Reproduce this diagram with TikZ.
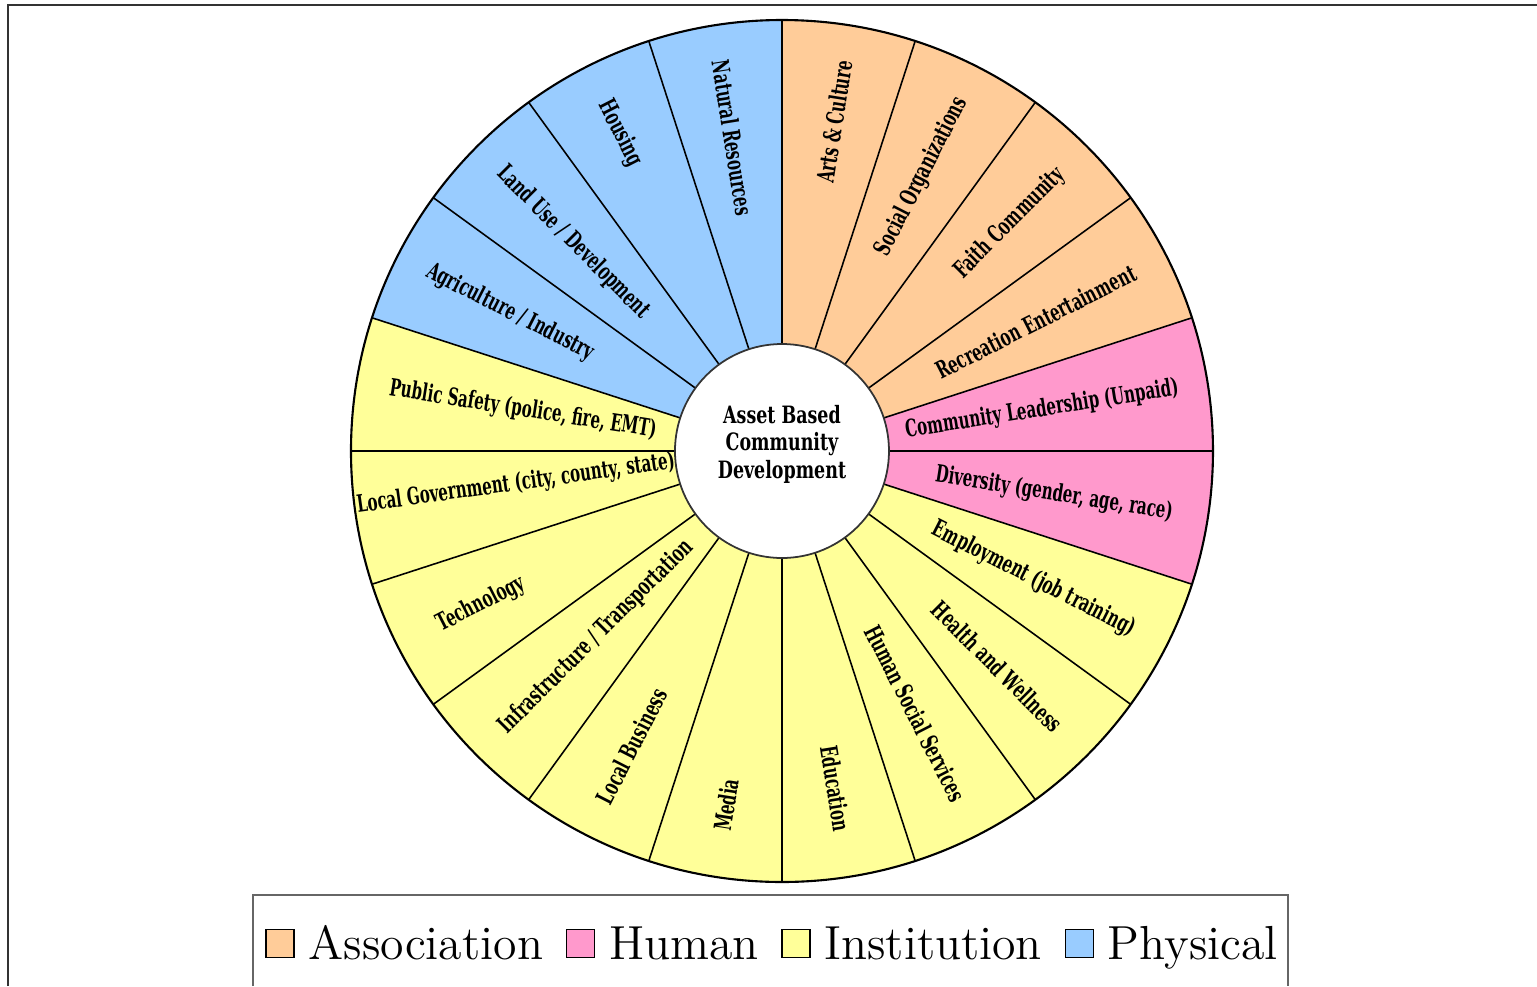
\documentclass[tikz,border=0pt]{standalone}
\usepackage{tikz}
\usepackage{graphicx}
\usepackage{fontspec}
\usetikzlibrary{positioning}
\newfontfamily\wheelfont{DejaVu Serif}
\definecolor{assoc}{HTML}{FFCC99}
\definecolor{human}{HTML}{FF99CC}
\definecolor{inst}{HTML}{FFFF99}
\definecolor{phys}{HTML}{99CCFF}
\newcommand{\squeeze}[1]{\scalebox{0.63}[1]{#1}}

\begin{document}
\begin{tikzpicture}[
    lbl/.style={font=\wheelfont\bfseries\fontsize{6.8}{7.8}\selectfont, inner sep=0pt},
    spoke/.style={line width=0.45pt},
    key/.style={draw, line width=0.45pt, minimum size=0.28cm, inner sep=0pt},
    keytext/.style={font=\fontsize{13.6}{16}\selectfont, inner sep=0pt, text height=9.3pt, text depth=0pt}]
    \useasboundingbox (-7.82,-5.35) rectangle (7.55,4.51);
    \draw[black!80, line width=0.6pt] (-7.74,-5.35) -- (-7.74,4.46) -- (7.55,4.46);
    \fill[assoc] (0,0) -- (90:4.31) arc[start angle=90, end angle=18, radius=4.31] -- cycle;
    \fill[human] (0,0) -- (18:4.31) arc[start angle=18, end angle=-18, radius=4.31] -- cycle;
    \fill[inst] (0,0) -- (-18:4.31) arc[start angle=-18, end angle=-198, radius=4.31] -- cycle;
    \fill[phys] (0,0) -- (162:4.31) arc[start angle=162, end angle=90, radius=4.31] -- cycle;
    \foreach \a in {0,18,...,342}
        \draw[spoke] (\a:1) -- (\a:4.31);
    \draw[line width=0.6pt] (0,0) circle (4.31);
    \draw[draw=black!80, fill=white, line width=0.5pt] (0,0) circle (1.07);
    \node[lbl, align=center, xscale=0.73] (hub) at (0,0.07) {Asset Based\\Community\\Development};
    \node[lbl, anchor=east, rotate=81] (arts) at (81:3.96) {\squeeze{Arts \& Culture}};
    \node[lbl, anchor=east, rotate=63] (social) at (63:3.96) {\squeeze{Social Organizations}};
    \node[lbl, anchor=east, rotate=45] (faith) at (45:3.96) {\squeeze{Faith Community}};
    \node[lbl, anchor=east, rotate=27] (recreation) at (27:3.96) {\squeeze{Recreation Entertainment}};
    \node[lbl, anchor=east, rotate=9] (leadership) at (9:4.02) {\squeeze{Community Leadership (Unpaid)}};
    \node[lbl, anchor=east, rotate=-9] (diversity) at (-9:3.96) {\squeeze{Diversity (gender, age, race)}};
    \node[lbl, anchor=east, rotate=-27] (employment) at (-27:3.96) {\squeeze{Employment (job training)}};
    \node[lbl, anchor=east, rotate=-45] (health) at (-45:3.92) {\squeeze{Health and Wellness}};
    \node[lbl, anchor=east, rotate=-63] (social services) at (-63:3.92) {\squeeze{Human Social Services}};
    \node[lbl, anchor=east, rotate=-81] (education) at (-81:3.85) {\squeeze{Education}};
    \node[lbl, anchor=west, rotate=81] (media) at (-99:3.85) {\squeeze{Media}};
    \node[lbl, anchor=west, rotate=63] (business) at (-117:3.95) {\squeeze{Local Business}};
    \node[lbl, anchor=west, rotate=45] (infrastructure) at (-135:3.95) {\squeeze{Infrastructure / Transportation}};
    \node[lbl, anchor=west, rotate=27] (technology) at (-153:3.86) {\squeeze{Technology}};
    \node[lbl, rotate=8] (government) at (-2.66,-0.33) {\squeeze{Local Government (city, county, state)}};
    \node[lbl, anchor=west, rotate=-9] (safety) at (171:3.98) {\squeeze{Public Safety (police, fire, EMT)}};
    \node[lbl, anchor=west, rotate=-27] (agriculture) at (153:3.98) {\squeeze{Agriculture / Industry}};
    \node[lbl, anchor=west, rotate=-45] (land use) at (135:3.98) {\squeeze{Land Use / Development}};
    \node[lbl, anchor=west, rotate=-63] (housing) at (117:3.93) {\squeeze{Housing}};
    \node[lbl, anchor=west, rotate=-81] (resources) at (99:3.96) {\squeeze{Natural Resources}};
    \draw[black!60, line width=0.3pt] (-5.29,-5.35) -- (-5.29,-4.44) -- (5.06,-4.44) -- (5.06,-5.35);
    \node[key, fill=assoc] (key assoc) at (-5.02,-4.925) {};
    \node[keytext, right=0.13 of key assoc] (txt assoc) {Association};
    \node[key, fill=human, right=0.22 of txt assoc] (key human) {};
    \node[keytext, right=0.13 of key human] (txt human) {Human};
    \node[key, fill=inst, right=0.22 of txt human] (key inst) {};
    \node[keytext, right=0.13 of key inst] (txt inst) {Institution};
    \node[key, fill=phys, right=0.22 of txt inst] (key phys) {};
    \node[keytext, right=0.13 of key phys] (txt phys) {Physical};
\end{tikzpicture}
\end{document}
